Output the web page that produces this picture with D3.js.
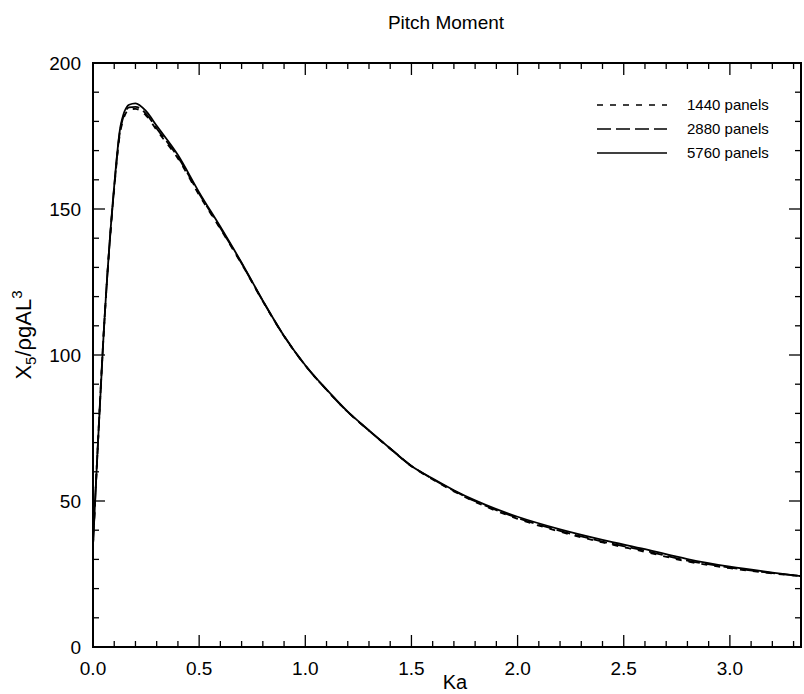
<!DOCTYPE html>
<html>
<head>
<meta charset="utf-8">
<script src="https://cdn.jsdelivr.net/npm/d3@7/dist/d3.min.js"></script>
<style>
  html, body { margin: 0; padding: 0; background: #fff; }
  svg { display: block; font-family: "Liberation Sans", Arial, Helvetica, sans-serif; }
</style>
</head>
<body>
<svg id="chart" width="804" height="694"></svg>
<script>
// Wave number Ka
const ka = [0, 0.02, 0.05, 0.1, 0.13, 0.17, 0.2, 0.25, 0.3, 0.4, 0.5, 0.6, 0.7, 0.8, 0.9, 1.0,
            1.1, 1.2, 1.3, 1.4, 1.5, 1.6, 1.7, 1.8, 1.9, 2.0, 2.2, 2.4, 2.6, 2.8, 3.0, 3.2, 3.335];

// Pitch moment X5/(rho g A L^3) for three panel resolutions
const panels1440 = [35, 65, 107, 157, 177, 184, 184.3, 182, 177, 167.3, 154.8, 143.2, 131.2, 118.4, 106.4, 96.4,
                    88.1, 80.5, 74.1, 67.9, 61.9, 57.4, 53.3, 49.7, 46.6, 43.9, 39.5, 35.8, 32.6, 29.3, 27.0, 25.2, 24.3];
const panels2880 = [35, 65, 107, 157.5, 177.8, 184.8, 185.0, 182.6, 177.6, 167.8, 155.2, 143.5, 131.4, 118.5, 106.5, 96.4,
                    88.1, 80.5, 74.1, 68.0, 62.0, 57.5, 53.5, 49.9, 46.9, 44.2, 39.8, 36.1, 33.0, 29.6, 27.2, 25.3, 24.3];
const panels5760 = [35, 65, 107, 158, 178.5, 185.7, 186.2, 183.5, 178.5, 168.5, 155.7, 143.9, 131.6, 118.6, 106.5, 96.5,
                    88.2, 80.6, 74.2, 68.0, 62.0, 57.7, 53.7, 50.2, 47.2, 44.6, 40.3, 36.7, 33.5, 30.1, 27.5, 25.5, 24.3];

const seriesNames = ["1440 panels", "2880 panels", "5760 panels"];
const seriesValues = [panels1440, panels2880, panels5760];
const seriesDash = ["6,7", "14,5", null];

const xTicks = [0, 0.5, 1.0, 1.5, 2.0, 2.5, 3.0];
const yTicks = [0, 50, 100, 150, 200];

const svg = d3.select("#chart");
const margin = { left: 93, right: 3, top: 63, bottom: 47 };
const W = 804, H = 694;

const x = d3.scaleLinear().domain([0, 3.335]).range([margin.left, W - margin.right]);
const y = d3.scaleLinear().domain([0, 200]).range([H - margin.bottom, margin.top]);

const x0 = x.range()[0], x1 = x.range()[1];
const y0 = y.range()[0], y1 = y.range()[1];

// Minor / major tick values
const xMinor = d3.range(0, 3.3001, 0.1).map(v => +v.toFixed(2)).filter(v => !xTicks.some(t => Math.abs(t - v) < 1e-6));
const yMinor = d3.range(0, 200.001, 10).filter(v => v % 50 !== 0);

const g = svg.append("g");

// Inward ticks on all four sides
function tickSet(vals, len) {
  vals.forEach(v => {
    g.append("line").attr("x1", x(v)).attr("x2", x(v)).attr("y1", y0).attr("y2", y0 - len)
      .attr("stroke", "#000").attr("stroke-width", 1.3);
    g.append("line").attr("x1", x(v)).attr("x2", x(v)).attr("y1", y1).attr("y2", y1 + len)
      .attr("stroke", "#000").attr("stroke-width", 1.3);
  });
}
function tickSetY(vals, len) {
  vals.forEach(v => {
    g.append("line").attr("x1", x0).attr("x2", x0 + len).attr("y1", y(v)).attr("y2", y(v))
      .attr("stroke", "#000").attr("stroke-width", 1.3);
    g.append("line").attr("x1", x1).attr("x2", x1 - len).attr("y1", y(v)).attr("y2", y(v))
      .attr("stroke", "#000").attr("stroke-width", 1.3);
  });
}
tickSet(xTicks, 12);
tickSet(xMinor, 6);
tickSetY(yTicks, 12);
tickSetY(yMinor, 6);

// Frame
g.append("rect").attr("x", x0).attr("y", y1).attr("width", x1 - x0).attr("height", y0 - y1)
  .attr("fill", "none").attr("stroke", "#000").attr("stroke-width", 2);

// Tick labels
g.selectAll(".xl").data(xTicks).enter().append("text")
  .attr("x", d => x(d)).attr("y", y0 + 28)
  .attr("text-anchor", "middle").attr("font-size", 19).text(d => d.toFixed(1));
g.selectAll(".yl").data(yTicks).enter().append("text")
  .attr("x", x0 - 12).attr("y", d => y(d)).attr("dy", "0.36em")
  .attr("text-anchor", "end").attr("font-size", 19).text(d => d);

// Axis titles
svg.append("text").attr("x", 446).attr("y", 29).attr("text-anchor", "middle")
  .attr("font-size", 19).text("Pitch Moment");
svg.append("text").attr("x", 455).attr("y", 689).attr("text-anchor", "middle")
  .attr("font-size", 20).text("Ka");
const yl = svg.append("text").attr("transform", "translate(31,335) rotate(-90)")
  .attr("text-anchor", "middle").attr("font-size", 22);
yl.append("tspan").text("X");
yl.append("tspan").attr("font-size", 15).attr("baseline-shift", "-5").text("5");
yl.append("tspan").text("/ρgAL");
yl.append("tspan").attr("font-size", 15).attr("baseline-shift", "9").text("3");

// Curves
const line = d3.line().x((d, i) => x(ka[i])).y(d => y(d)).curve(d3.curveMonotoneX);
seriesValues.forEach((vals, i) => {
  svg.append("path").datum(vals).attr("d", line)
    .attr("fill", "none").attr("stroke", "#000").attr("stroke-width", 1.8)
    .attr("stroke-dasharray", seriesDash[i]);
});

// Legend
const leg = svg.append("g").attr("transform", "translate(597,105)");
seriesNames.forEach((name, i) => {
  const ly = i * 24;
  leg.append("line").attr("x1", 0).attr("x2", 70).attr("y1", ly).attr("y2", ly)
    .attr("stroke", "#000").attr("stroke-width", 1.4).attr("stroke-dasharray", seriesDash[i]);
  leg.append("text").attr("x", 90).attr("y", ly).attr("dy", "0.36em")
    .attr("font-size", 15).text(name);
});
</script>
</body>
</html>
